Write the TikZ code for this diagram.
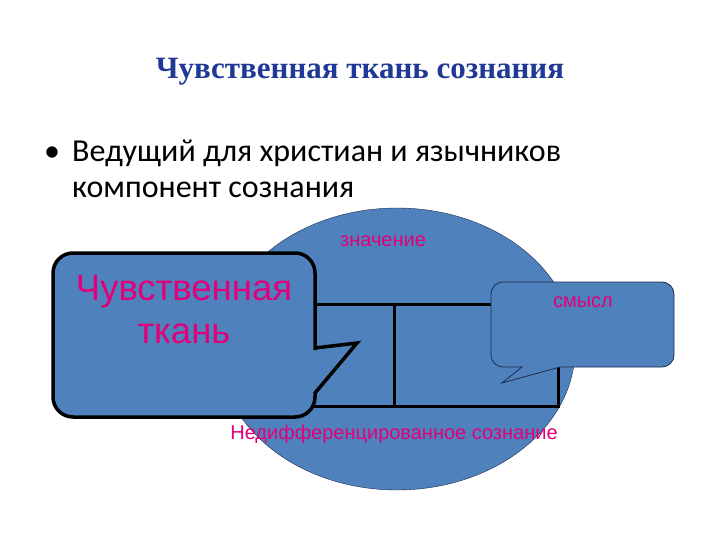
\documentclass[tikz,border=0pt]{standalone}
\usepackage{fontspec}
\setmainfont{Liberation Sans}
\newfontfamily\titlefont{Liberation Serif}
\newfontfamily\bodyfont{Carlito}
\usetikzlibrary{positioning,shapes.geometric}
\definecolor{slideblue}{RGB}{79,129,189}
\definecolor{slideedge}{RGB}{30,45,80}
\definecolor{titleblue}{RGB}{32,56,150}
\definecolor{pinktext}{RGB}{226,0,122}
\tikzstyle{label} = [inner sep=0pt,text=pinktext,font=\fontsize{20}{23}\selectfont]
\tikzstyle{bubble} = [fill=slideblue,draw=black]
\tikzstyle{body} = [inner sep=0pt,anchor=base west,font=\bodyfont\fontsize{32}{38}\selectfont]

\begin{document}
\begin{tikzpicture}[x=1pt,y=-1pt]
		\useasboundingbox (0,0) rectangle (720,540);
		\node [inner sep=0pt,anchor=base,text=titleblue,font=\titlefont\bfseries\fontsize{31}{36}\selectfont](title) at (360,79){Чувственная ткань сознания};
		\node [body](bullet) at (44,162){•};
		\node [body](line1) at (72,162){Ведущий для христиан и язычников};
		\node [body](line2) at (72,198){компонент сознания};
		
		% consciousness
		\node [ellipse,draw=slideedge,fill=slideblue,minimum width=356pt,minimum height=282pt,inner sep=0pt](mind) at (397,349){};
		\draw[line width=3pt](260,304) rectangle (558,406);
		\draw[line width=3pt](394,304)--(394,406);
		\node [label](meaning) at (383,241){значение};
		\node [label](whole) at (394,434){Недифференцированное сознание};
		
		% speech bubbles
		\draw[bubble,line width=3.5pt,rounded corners=20pt](53,300)--(53,253)--(315,253)--(315,330)[sharp corners]--(315,348)--(357,343)--(315,393)[rounded corners=20pt]--(315,417)--(53,417)--cycle;
		\node [label,font=\fontsize{36.5}{43}\selectfont,align=center](sense) at (184,310){Чувственная\\ткань};
		\draw[bubble,draw=slideedge,line width=0.8pt,rounded corners=12pt](491,320)--(491,282)--(674,282)--(674,367)--(600,367)[sharp corners]--(560,367)--(502,383)--(522,367)[rounded corners=12pt]--(491,367)--cycle;
		\node [label](smysl) at (583,302){смысл};
\end{tikzpicture}
\end{document}
